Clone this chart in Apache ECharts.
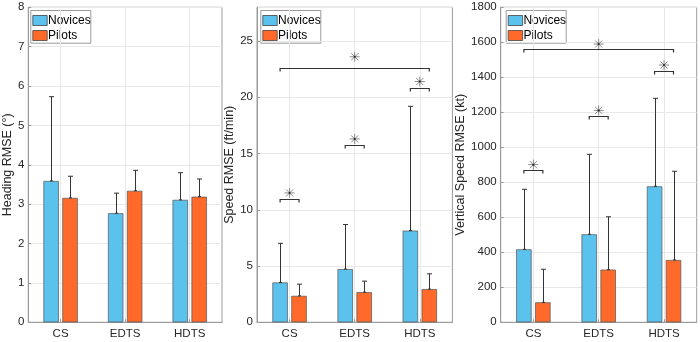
<!DOCTYPE html>
<html><head><meta charset="utf-8">
<script src="https://cdn.jsdelivr.net/npm/echarts@6/dist/echarts.min.js"></script>
<style>html,body{margin:0;padding:0;background:#fff}#c{width:700px;height:342px}</style>
</head><body><div id="c"></div><script>
// ---- data ----
const categories = ['CS', 'EDTS', 'HDTS'];
const seriesNames = ['Novices', 'Pilots'];

const headingNovices = [3.59, 2.77, 3.11];
const headingNovicesSD = [2.14, 0.51, 0.69];
const headingPilots = [3.16, 3.34, 3.19];
const headingPilotsSD = [0.55, 0.52, 0.45];

const speedNovices = [3.54, 4.73, 8.15];
const speedNovicesSD = [3.48, 3.96, 11.05];
const speedPilots = [2.35, 2.68, 2.95];
const speedPilotsSD = [1.04, 0.98, 1.36];

const vspeedNovices = [417, 503, 777];
const vspeedNovicesSD = [343, 457, 503];
const vspeedPilots = [114, 301, 356];
const vspeedPilotsSD = [189, 302, 507];

// significance brackets: [fromCat, fromGroup, toCat, toGroup, lineY, starY]
const headingSig = [];
const speedSig = [[0, 0, 2, 1, 22.6, 23.6], [2, 0, 2, 1, 20.83, 21.4], [1, 0, 1, 1, 15.8, 16.3], [0, 0, 0, 1, 11.0, 11.5]];
const vspeedSig = [[0, 0, 2, 1, 1560, 1590], [2, 0, 2, 1, 1438, 1470], [1, 0, 1, 1, 1179, 1211], [0, 0, 0, 1, 869, 901]];

const yAxisTitles = ['Heading RMSE (°)', 'Speed RMSE (ft/min)', 'Vertical Speed RMSE (kt)'];
const yMax = [8, 28, 1800];
const yStep = [1, 5, 200];

// ---- style ----
const FONT = 'Liberation Sans, Arial, sans-serif';
const TXT = '#262626';
const AXIS = '#9a9a9a';
const COL_N = '#5BC1ED';
const COL_P = '#FF6A2B';
const BAR_W = 15.4;
const GAP_PCT = 0.23;
const OFF = (BAR_W + BAR_W * GAP_PCT) / 2;

const grids = [
  { left: 26.5, top: 7.3, width: 195.5, height: 315 },
  { left: 257, top: 7.3, width: 195.4, height: 315 },
  { left: 500.7, top: 7.3, width: 196, height: 315 }
];
const nameGaps = [11.2, 18.7, 31.5];

const panels = [
  { n: headingNovices, nsd: headingNovicesSD, p: headingPilots, psd: headingPilotsSD, sig: headingSig },
  { n: speedNovices, nsd: speedNovicesSD, p: speedPilots, psd: speedPilotsSD, sig: speedSig },
  { n: vspeedNovices, nsd: vspeedNovicesSD, p: vspeedPilots, psd: vspeedPilotsSD, sig: vspeedSig }
];

function errRender(side) {
  return function (params, api) {
    const c = api.value(0);
    const base = api.coord([c, api.value(1)]);
    const top = api.coord([c, api.value(2)]);
    const x = Math.round(base[0] + (side ? OFF : -OFF)) + 0.5;
    const st = { stroke: '#333', lineWidth: 1 };
    return { type: 'group', children: [
      { type: 'line', shape: { x1: x, y1: base[1], x2: x, y2: top[1] }, style: st },
      { type: 'line', shape: { x1: x - 2.5, y1: top[1], x2: x + 2.5, y2: top[1] }, style: st },
      { type: 'line', shape: { x1: x - 1.5, y1: base[1], x2: x + 1.5, y2: base[1] }, style: st }
    ] };
  };
}

function sigRender(params, api) {
  const c1 = api.value(0), s1 = api.value(1), c2 = api.value(2), s2 = api.value(3);
  const y = api.value(4), sy = api.value(5);
  const p1 = api.coord([c1, y]), p2 = api.coord([c2, y]);
  const x1 = p1[0] + (s1 ? OFF : -OFF), x2 = p2[0] + (s2 ? OFF : -OFF);
  const ly = Math.round(p1[1]) + 0.5;
  const sp = api.coord([c1, sy]);
  const sx = (x1 + x2) / 2, syy = sp[1];
  const r = 5, d = r * 0.707;
  const ss = { stroke: '#8a8a8a', lineWidth: 1 };
  return { type: 'group', children: [
    { type: 'polyline', shape: { points: [[x1, ly + 3], [x1, ly], [x2, ly], [x2, ly + 3]] }, style: { stroke: '#333', lineWidth: 1.2, fill: null } },
    { type: 'line', shape: { x1: sx - r, y1: syy, x2: sx + r, y2: syy }, style: ss },
    { type: 'line', shape: { x1: sx, y1: syy - r, x2: sx, y2: syy + r }, style: ss },
    { type: 'line', shape: { x1: sx - d, y1: syy - d, x2: sx + d, y2: syy + d }, style: ss },
    { type: 'line', shape: { x1: sx - d, y1: syy + d, x2: sx + d, y2: syy - d }, style: ss },
    { type: 'circle', shape: { cx: sx, cy: syy, r: 1 }, style: { fill: '#222' } }
  ] };
}

const option = {
  animation: false,
  textStyle: { fontFamily: FONT },
  grid: grids.map(g => Object.assign({ show: true, borderColor: AXIS, borderWidth: 1, backgroundColor: '#fff' }, g)),
  xAxis: grids.map((g, i) => ({
    type: 'category', gridIndex: i, data: categories,
    axisLine: { lineStyle: { color: AXIS } },
    axisTick: { show: true, inside: true, length: 3, alignWithLabel: true, lineStyle: { color: AXIS } },
    splitLine: { show: true, alignWithLabel: true, lineStyle: { color: '#e8e8e8' } },
    axisLabel: { color: TXT, fontSize: 11.5, margin: 6, fontFamily: FONT }
  })),
  yAxis: grids.map((g, i) => ({
    type: 'value', gridIndex: i, min: 0, max: yMax[i], interval: yStep[i],
    name: yAxisTitles[i], nameLocation: 'middle', nameGap: nameGaps[i],
    nameTextStyle: { color: TXT, fontSize: 12.5, fontFamily: FONT },
    axisLine: { show: true, lineStyle: { color: AXIS } },
    axisTick: { show: true, inside: true, length: 3, lineStyle: { color: AXIS } },
    splitLine: { show: true, lineStyle: { color: '#e8e8e8' } },
    axisLabel: { color: TXT, fontSize: 11.5, margin: 4, fontFamily: FONT,
      showMaxLabel: yMax[i] % yStep[i] === 0, formatter: v => String(v) }
  })),
  series: []
};

panels.forEach((pn, i) => {
  option.series.push({
    type: 'bar', name: seriesNames[0], xAxisIndex: i, yAxisIndex: i, data: pn.n,
    barWidth: BAR_W, barGap: (GAP_PCT * 100) + '%',
    itemStyle: { color: COL_N, borderColor: '#555', borderWidth: 0.7 }
  });
  option.series.push({
    type: 'bar', name: seriesNames[1], xAxisIndex: i, yAxisIndex: i, data: pn.p,
    barWidth: BAR_W, barGap: (GAP_PCT * 100) + '%',
    itemStyle: { color: COL_P, borderColor: '#555', borderWidth: 0.7 }
  });
  option.series.push({
    type: 'custom', xAxisIndex: i, yAxisIndex: i, z: 5,
    renderItem: errRender(0), encode: { x: 0, y: [1, 2] },
    data: categories.map((c, k) => [k, pn.n[k], pn.n[k] + pn.nsd[k]])
  });
  option.series.push({
    type: 'custom', xAxisIndex: i, yAxisIndex: i, z: 5,
    renderItem: errRender(1), encode: { x: 0, y: [1, 2] },
    data: categories.map((c, k) => [k, pn.p[k], pn.p[k] + pn.psd[k]])
  });
  if (pn.sig.length) {
    option.series.push({
      type: 'custom', xAxisIndex: i, yAxisIndex: i, z: 6,
      renderItem: sigRender, encode: { x: [0, 2], y: [4, 5] },
      data: pn.sig
    });
  }
});

// legends (one per panel)
const legendX = [30.3, 260.3, 505.7];
option.graphic = legendX.map(lx => ({
  type: 'group', left: lx, top: 10, z: 100,
  children: [
    { type: 'rect', shape: { x: 0, y: 0, width: 60, height: 32.7 }, style: { fill: '#fff', stroke: '#9a9a9a', lineWidth: 1 } },
    { type: 'rect', shape: { x: 2, y: 5, width: 14.4, height: 10 }, style: { fill: COL_N, stroke: '#444', lineWidth: 0.8 } },
    { type: 'text', x: 17.2, y: 10, style: { text: seriesNames[0], fill: '#000', font: '12px ' + FONT, textVerticalAlign: 'middle' } },
    { type: 'rect', shape: { x: 2, y: 20, width: 14.4, height: 10 }, style: { fill: COL_P, stroke: '#444', lineWidth: 0.8 } },
    { type: 'text', x: 17.2, y: 25, style: { text: seriesNames[1], fill: '#000', font: '12px ' + FONT, textVerticalAlign: 'middle' } }
  ]
}));

const chart = echarts.init(document.getElementById('c'), null, { renderer: 'canvas' });
chart.setOption(option);
</script></body></html>
